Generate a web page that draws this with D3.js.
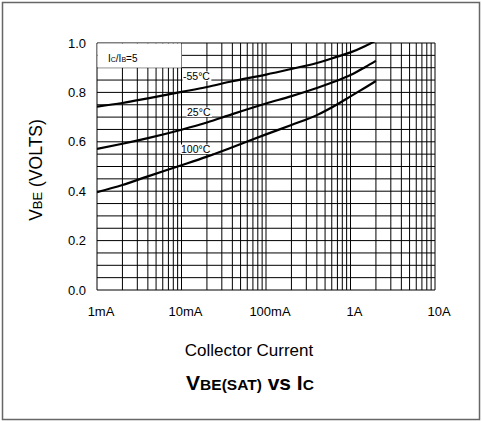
<!DOCTYPE html>
<html>
<head>
<meta charset="utf-8">
<script src="https://cdn.jsdelivr.net/npm/d3@7"></script>
<style>
  body { margin: 0; background: #fff; }
  svg { display: block; font-family: "Liberation Sans", Arial, Helvetica, sans-serif; }
</style>
</head>
<body>
<svg width="482" height="421"></svg>
<script>
// collector current (A) and V_BE(sat) (V) for each temperature
var current = [0.001, 0.002, 0.004, 0.01, 0.02, 0.04, 0.1, 0.2, 0.4, 0.7, 1, 1.5, 2];
var vbeM55 = [0.742, 0.757, 0.776, 0.802, 0.822, 0.845, 0.872, 0.895, 0.919, 0.945, 0.962, 0.988, 1.01];
var vbe25  = [0.571, 0.592, 0.615, 0.649, 0.678, 0.712, 0.755, 0.785, 0.818, 0.848, 0.870, 0.903, 0.928];
var vbe100 = [0.396, 0.425, 0.460, 0.505, 0.540, 0.578, 0.630, 0.668, 0.708, 0.752, 0.784, 0.820, 0.846];
var seriesNames = ["-55°C", "25°C", "100°C"];
var xTickValues = [0.001, 0.01, 0.1, 1, 10];
var xTickLabels = ["1mA", "10mA", "100mA", "1A", "10A"];
var yTickValues = [0, 0.2, 0.4, 0.6, 0.8, 1.0];

var svg = d3.select("svg");
var pLeft = 97, pRight = 435, pTop = 43, pBottom = 290;

var x = d3.scaleLog().domain([0.001, 10]).range([pLeft, pRight]);
var y = d3.scaleLinear().domain([0, 1]).range([pBottom, pTop]);

// outer frame
svg.append("rect")
  .attr("x", 2.5).attr("y", 2.5)
  .attr("width", 477).attr("height", 417)
  .style("fill", "none").style("stroke", "#666").style("stroke-width", 1.5);

var grid = svg.append("g").style("stroke", "#000").style("stroke-width", 1);

// vertical log grid
grid.selectAll("line.v")
  .data(x.ticks())
  .enter().append("line")
  .attr("x1", function (d) { return x(d); })
  .attr("x2", function (d) { return x(d); })
  .attr("y1", pTop).attr("y2", pBottom);

// horizontal grid every 0.05
grid.selectAll("line.h")
  .data(y.ticks(20))
  .enter().append("line")
  .attr("x1", pLeft).attr("x2", pRight)
  .attr("y1", function (d) { return y(d); })
  .attr("y2", function (d) { return y(d); });

// Ic/Ib box in the corner
svg.append("rect")
  .attr("x", pLeft + 0.5).attr("y", pTop + 0.5)
  .attr("width", x(0.01) - pLeft - 0.5).attr("height", y(0.9) - pTop - 0.5)
  .style("fill", "#fff");
var ratio = svg.append("text")
  .attr("x", 108).attr("y", 62)
  .style("font-size", "10px");
ratio.append("tspan").text("I");
ratio.append("tspan").style("font-size", "7px").text("C");
ratio.append("tspan").text("/I");
ratio.append("tspan").style("font-size", "7px").text("B");
ratio.append("tspan").text("=5");

// curves
var series = [vbeM55, vbe25, vbe100];
var line = d3.line()
  .x(function (d) { return x(d[0]); })
  .y(function (d) { return y(d[1]); })
  .curve(d3.curveMonotoneX);

svg.append("clipPath").attr("id", "clip")
  .append("rect").attr("x", pLeft).attr("y", pTop - 1)
  .attr("width", pRight - pLeft).attr("height", pBottom - pTop + 1);

svg.append("g").attr("clip-path", "url(#clip)")
  .selectAll("path")
  .data(series)
  .enter().append("path")
  .attr("d", function (s) { return line(current.map(function (c, i) { return [c, s[i]]; })); })
  .style("fill", "none")
  .style("stroke", "#000")
  .style("stroke-width", 2.2);

// temperature labels with white backing
var labelPos = [[183, 80], [187, 116], [181, 153]];
seriesNames.forEach(function (name, i) {
  var t = svg.append("text")
    .attr("x", labelPos[i][0]).attr("y", labelPos[i][1])
    .style("font-size", "10.5px")
    .text(name);
  var b = t.node().getBBox();
  svg.insert("rect", "text")
    .attr("x", b.x - 0.5).attr("y", b.y + 1.5)
    .attr("width", b.width + 1.5).attr("height", b.height - 2.5)
    .style("fill", "#fff");
});

// tick labels
svg.append("g").selectAll("text")
  .data(yTickValues)
  .enter().append("text")
  .attr("x", 86)
  .attr("y", function (d) { return y(d); })
  .attr("dy", "0.35em")
  .attr("text-anchor", "end")
  .style("font-size", "13px")
  .text(function (d) { return d.toFixed(1); });

svg.append("g").selectAll("text")
  .data(xTickValues)
  .enter().append("text")
  .attr("x", function (d) { return x(d) + 4; })
  .attr("y", 316)
  .attr("text-anchor", "middle")
  .style("font-size", "13px")
  .text(function (d, i) { return xTickLabels[i]; });

// axis titles
var yTitle = svg.append("text")
  .attr("text-anchor", "middle")
  .attr("transform", "translate(42,170) rotate(-90)")
  .style("font-size", "17.5px");
yTitle.append("tspan").text("V");
yTitle.append("tspan").style("font-size", "13px").text("BE");
yTitle.append("tspan").text(" (VOLTS)");

svg.append("text")
  .attr("x", 249).attr("y", 356)
  .attr("text-anchor", "middle")
  .style("font-size", "17px")
  .text("Collector Current");

var title = svg.append("text")
  .attr("x", 250).attr("y", 390)
  .attr("text-anchor", "middle")
  .style("font-size", "21px")
  .style("font-weight", "bold");
title.append("tspan").text("V");
title.append("tspan").style("font-size", "15.5px").text("BE(SAT)");
title.append("tspan").text(" vs I");
title.append("tspan").style("font-size", "15.5px").text("C");
</script>
</body>
</html>
